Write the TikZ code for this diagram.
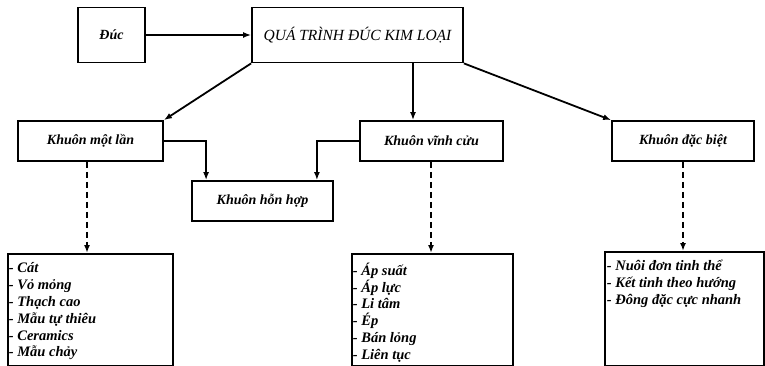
\documentclass[tikz,border=0pt]{standalone}
\usepackage{fontspec}
\setmainfont{Liberation Serif}
\usetikzlibrary{arrows.meta,calc}
\begin{document}
\begin{tikzpicture}[x=1pt,y=-1pt,
  box/.style={draw,line width=1.8pt,rectangle,inner sep=0pt,font=\bfseries\itshape\fontsize{14}{16}\selectfont},
  listbox/.style={draw,line width=1.8pt,rectangle,inner sep=0pt,anchor=north west,font=\bfseries\itshape\fontsize{14.5}{16.8}\selectfont},
  arr/.style={line width=1.8pt,-{Latex[length=8pt,width=6pt]}},
  darr/.style={line width=2pt,dash pattern=on 6pt off 4pt,-{Latex[length=8pt,width=6pt]}}]
\useasboundingbox (0,0) rectangle (765,366);
\node[box,minimum width=67pt,minimum height=55pt] (duc) at (111.5,35) {Đúc};
\node[box,minimum width=211pt,minimum height=55pt,font=\itshape\fontsize{15.5}{17}\selectfont] (qua) at (357.5,35) {QUÁ TRÌNH ĐÚC KIM LOẠI};
\node[box,minimum width=145pt,minimum height=40pt] (mot) at (90.5,141) {Khuôn một lần};
\node[box,minimum width=141pt,minimum height=40pt] (hon) at (262.5,201) {Khuôn hỗn hợp};
\node[box,minimum width=143pt,minimum height=40pt] (vinh) at (431.5,141) {Khuôn vĩnh cửu};
\node[box,minimum width=142pt,minimum height=40pt] (dac) at (683,141) {Khuôn đặc biệt};
\node[listbox] (l1) at (7,253) {\parbox[t][112pt][t]{165pt}{\vspace{9pt}\hspace*{1pt}- Cát\\\hspace*{1pt}- Vỏ mỏng\\\hspace*{1pt}- Thạch cao\\\hspace*{1pt}- Mẫu tự thiêu\\\hspace*{1pt}- Ceramics\\\hspace*{1pt}- Mẫu chảy}};
\node[listbox] (l2) at (351,253) {\parbox[t][112pt][t]{161pt}{\vspace{9pt}\hspace*{1pt}- Áp suất\\\hspace*{1pt}- Áp lực\\\hspace*{1pt}- Li tâm\\\hspace*{1pt}- Ép\\\hspace*{1pt}- Bán lỏng\\\hspace*{1pt}- Liên tục}};
\node[listbox] (l3) at (604,251) {\parbox[t][114pt][t]{159pt}{\vspace{8pt}\hspace*{2pt}- Nuôi đơn tinh thể\\\hspace*{2pt}- Kết tinh theo hướng\\\hspace*{2pt}- Đông đặc cực nhanh}};
\coordinate (vx) at (413,0);
\coordinate (mx) at (87,0);
\coordinate (vy) at (431,0);
\draw[arr] (duc) -- (qua);
\draw[arr] (qua.south west) -- (mot.north east);
\draw[arr] (qua.south -| vx) -- (vinh.north -| vx);
\draw[arr] (qua.south east) -- (dac.north west);
\draw[arr] (mot.east) -| ([xshift=15pt]hon.north west);
\draw[arr] (vinh.west) -| ([xshift=-17pt]hon.north east);
\draw[darr] (mot.south -| mx) -- (l1.north -| mx);
\draw[darr] (vinh.south -| vy) -- (l2.north -| vy);
\draw[darr] (dac.south) -- (l3.north -| dac.south);
\end{tikzpicture}
\end{document}
